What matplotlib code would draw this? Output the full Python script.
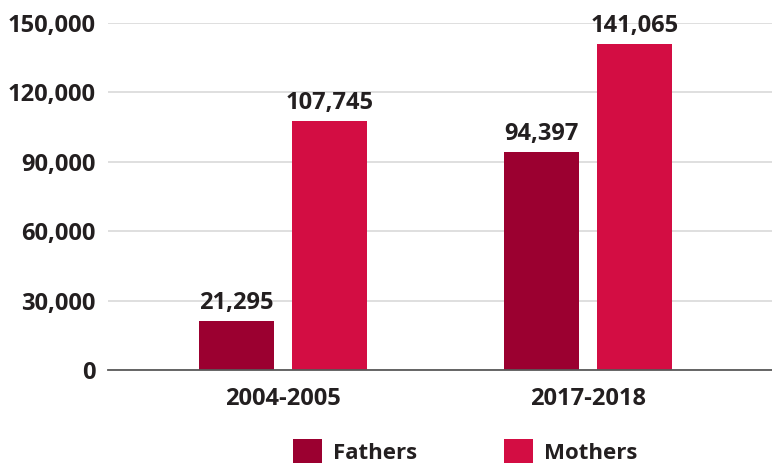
import matplotlib.pyplot as plt
from matplotlib.ticker import FuncFormatter
import numpy as np

years = ['2004-2005', '2017-2018']
fathers = [21295, 94397]
mothers = [107745, 141065]

c_fathers = '#9b0030'
c_mothers = '#d30d43'
txt = '#231f20'

plt.rcParams['font.family'] = ['Open Sans', 'DejaVu Sans']
plt.rcParams['font.weight'] = 'bold'

fig = plt.figure(figsize=(7.72, 4.65), dpi=100)
ax = fig.add_axes([0.1399, 0.2043, 0.8601, 0.7462])

x = np.arange(len(years))
w = 0.245
b1 = ax.bar(x - 0.152, fathers, w, color=c_fathers, label='Fathers', zorder=3)
b2 = ax.bar(x + 0.152, mothers, w, color=c_mothers, label='Mothers', zorder=3)

for bars in (b1, b2):
    for r in bars:
        ax.text(r.get_x() + r.get_width() / 2, r.get_height() + 2500,
                f'{int(r.get_height()):,}', ha='center', va='bottom',
                fontsize=17, fontweight='bold', color=txt)

ax.set_ylim(0, 150000)
ax.set_xlim(-0.574, 1.603)
ax.set_yticks(range(0, 150001, 30000))
ax.yaxis.set_major_formatter(FuncFormatter(lambda v, p: f'{int(v):,}'))
ax.set_xticks(x)
ax.set_xticklabels(years)
ax.tick_params(axis='both', length=0, labelsize=17, labelcolor=txt)
ax.tick_params(axis='y', pad=9)
ax.tick_params(axis='x', pad=12)
for lab in ax.get_xticklabels() + ax.get_yticklabels():
    lab.set_fontweight('bold')

ax.grid(axis='y', color='#d9d9d9', linewidth=1.2, zorder=0)
for s in ['top', 'right', 'left']:
    ax.spines[s].set_visible(False)
ax.spines['bottom'].set_color('#595959')
ax.spines['bottom'].set_linewidth(1.3)
ax.spines['bottom'].set_zorder(4)

fig.legend(handles=[b1, b2], loc='lower center', bbox_to_anchor=(0.603, -0.04),
           ncol=2, frameon=False, handlelength=1.3, handleheight=1.3,
           handletextpad=0.5, columnspacing=3.9, labelcolor=txt,
           prop={'weight': 'bold', 'size': 16})

fig.savefig('out.png', dpi=100)
